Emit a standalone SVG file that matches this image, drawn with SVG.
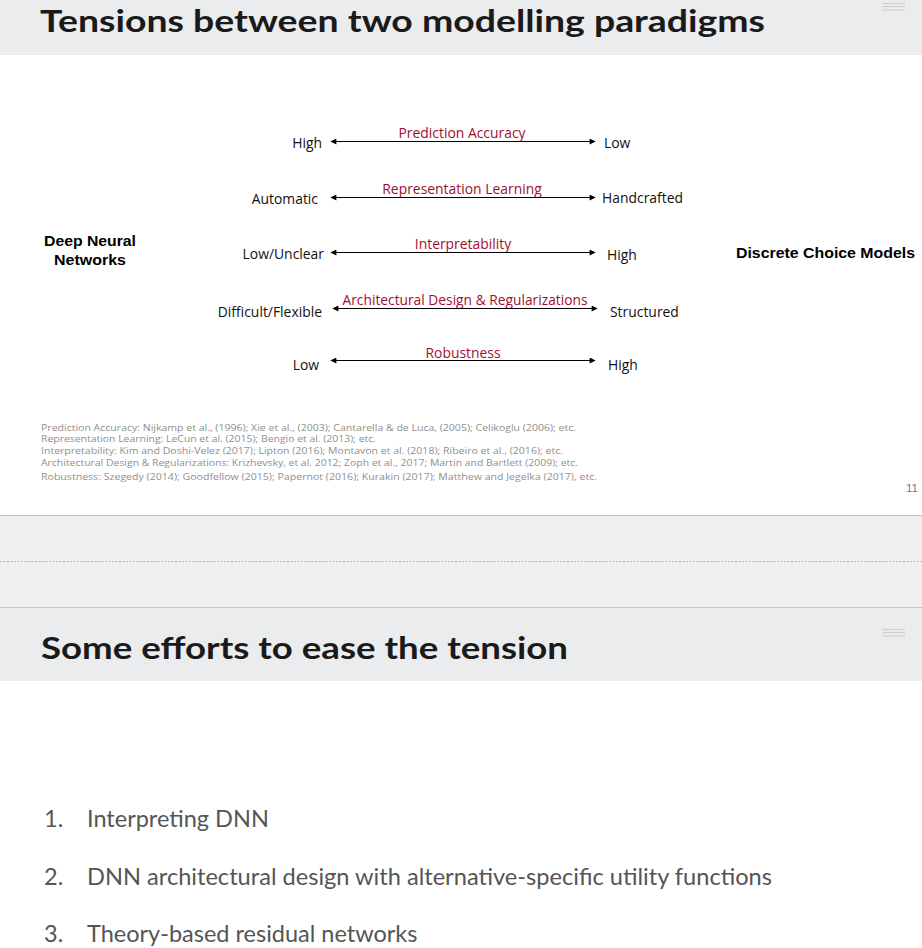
<svg xmlns="http://www.w3.org/2000/svg" width="922" height="948" viewBox="0 0 922 948">
  <style>
    .hdr { fill: #ebecee; }
    .title { font-family: Lato, "Open Sans", sans-serif; font-weight: 700; font-size: 31px; fill: #1a1a1a; }
    .end { font-family: "Open Sans", "Liberation Sans", sans-serif; font-size: 13.9px; fill: #111; }
    .axis { font-family: "Open Sans", "Liberation Sans", sans-serif; font-size: 13.9px; fill: #a0102e; }
    .side { font-family: "Liberation Sans", Arial, sans-serif; font-weight: 700; font-size: 15px; fill: #000; }
    .ref { font-family: "Open Sans", "Liberation Sans", sans-serif; font-size: 8.6px; fill: #8f8f8f; }
    .item { font-family: Lato, "Open Sans", sans-serif; font-size: 23.5px; fill: #555; }
    .menu { stroke: #cfd0d2; stroke-width: 1.2; }
    .conn { stroke: #000; stroke-width: 1; fill: none; marker-start: url(#ah); marker-end: url(#ah); }
  </style>
  <defs>
    <marker id="ah" viewBox="0 0 10 10" refX="9" refY="5" markerWidth="9" markerHeight="6" markerUnits="userSpaceOnUse" orient="auto-start-reverse">
      <path d="M0,0 L10,5 L0,10 z" fill="#000"/>
    </marker>
  </defs>

  <rect width="922" height="948" fill="#fff"/>

  <!-- slide 11 header -->
  <rect class="hdr" x="0" y="0" width="922" height="55"/>
  <text class="title" x="40" y="32" textLength="725" lengthAdjust="spacingAndGlyphs">Tensions between two modelling paradigms</text>
  <g>
    <line class="menu" x1="882" y1="3.5" x2="905" y2="3.5"/>
    <line class="menu" x1="882" y1="6.5" x2="905" y2="6.5"/>
    <line class="menu" x1="882" y1="10" x2="905" y2="10"/>
  </g>

  <!-- paradigm labels -->
  <g id="dnn">
    <text class="side" x="90" y="246" text-anchor="middle" textLength="92" lengthAdjust="spacingAndGlyphs">Deep Neural</text>
    <text class="side" x="90" y="265" text-anchor="middle" textLength="72" lengthAdjust="spacingAndGlyphs">Networks</text>
  </g>
  <g id="dcm">
    <text class="side" x="736" y="258" textLength="179" lengthAdjust="spacingAndGlyphs">Discrete Choice Models</text>
  </g>

  <!-- axis end labels -->
  <g id="row1">
    <text class="end" x="322" y="148" text-anchor="end">High</text>
    <text class="end" x="604" y="148">Low</text>
    <text class="axis" x="462" y="138" text-anchor="middle">Prediction Accuracy</text>
  </g>
  <g id="row2">
    <text class="end" x="318" y="204" text-anchor="end">Automatic</text>
    <text class="end" x="602" y="203">Handcrafted</text>
    <text class="axis" x="462" y="194" text-anchor="middle">Representation Learning</text>
  </g>
  <g id="row3">
    <text class="end" x="324" y="259" text-anchor="end">Low/Unclear</text>
    <text class="end" x="607" y="260">High</text>
    <text class="axis" x="463" y="249" text-anchor="middle">Interpretability</text>
  </g>
  <g id="row4">
    <text class="end" x="322" y="317" text-anchor="end">Difficult/Flexible</text>
    <text class="end" x="610" y="317">Structured</text>
    <text class="axis" x="465" y="305" text-anchor="middle" textLength="245" lengthAdjust="spacingAndGlyphs">Architectural Design &amp; Regularizations</text>
  </g>
  <g id="row5">
    <text class="end" x="319" y="370" text-anchor="end">Low</text>
    <text class="end" x="608" y="370">High</text>
    <text class="axis" x="463" y="358" text-anchor="middle">Robustness</text>
  </g>

  <!-- double-headed axes -->
  <g id="connectors">
    <line class="conn" x1="331" y1="141.5" x2="595" y2="141.5"/>
    <line class="conn" x1="331" y1="197.5" x2="595" y2="197.5"/>
    <line class="conn" x1="331" y1="252.5" x2="595" y2="252.5"/>
    <line class="conn" x1="333" y1="308.5" x2="597" y2="308.5"/>
    <line class="conn" x1="331" y1="360.5" x2="595" y2="360.5"/>
  </g>

  <!-- references -->
  <g id="refs">
    <text class="ref" x="41" y="431" textLength="535" lengthAdjust="spacingAndGlyphs">Prediction Accuracy: Nijkamp et al., (1996); Xie et al., (2003); Cantarella &amp; de Luca, (2005); Celikoglu (2006); etc.</text>
    <text class="ref" x="41" y="442" textLength="335" lengthAdjust="spacingAndGlyphs">Representation Learning: LeCun et al. (2015); Bengio et al. (2013); etc.</text>
    <text class="ref" x="41" y="454" textLength="522" lengthAdjust="spacingAndGlyphs">Interpretability: Kim and Doshi-Velez (2017); Lipton (2016); Montavon et al. (2018); Ribeiro et al., (2016); etc.</text>
    <text class="ref" x="41" y="466" textLength="537" lengthAdjust="spacingAndGlyphs">Architectural Design &amp; Regularizations: Krizhevsky, et al. 2012; Zoph et al., 2017; Martin and Bartlett (2009); etc.</text>
    <text class="ref" x="41" y="480" textLength="556" lengthAdjust="spacingAndGlyphs">Robustness: Szegedy (2014); Goodfellow (2015); Papernot (2016); Kurakin (2017); Matthew and Jegelka (2017),  etc.</text>
  </g>
  <text x="918" y="492" text-anchor="end" font-family="'Liberation Sans', Arial, sans-serif" font-size="11.5" fill="#777">11</text>

  <!-- gap between slides -->
  <rect x="0" y="515" width="922" height="93" fill="#f0f0f0"/>
  <line x1="0" y1="515.5" x2="922" y2="515.5" stroke="#c3c3c3" stroke-width="1"/>
  <line x1="0" y1="561.5" x2="922" y2="561.5" stroke="#b5b5b5" stroke-width="1" stroke-dasharray="2,1.5"/>
  <line x1="0" y1="607.5" x2="922" y2="607.5" stroke="#c3c3c3" stroke-width="1"/>

  <!-- slide 12 header -->
  <rect class="hdr" x="0" y="608" width="922" height="73"/>
  <text class="title" x="41" y="659" textLength="527" lengthAdjust="spacingAndGlyphs">Some efforts to ease the tension</text>
  <g>
    <line class="menu" x1="882" y1="629.5" x2="905" y2="629.5"/>
    <line class="menu" x1="882" y1="632.5" x2="905" y2="632.5"/>
    <line class="menu" x1="882" y1="636" x2="905" y2="636"/>
  </g>

  <!-- list -->
  <g id="list">
    <text class="item" x="44" y="827">1.</text>
    <text class="item" x="87" y="827">Interpreting DNN</text>
    <text class="item" x="44" y="885">2.</text>
    <text class="item" x="87" y="885" textLength="685" lengthAdjust="spacingAndGlyphs">DNN architectural design with alternative-specific utility functions</text>
    <text class="item" x="44" y="942">3.</text>
    <text class="item" x="87" y="942">Theory-based residual networks</text>
  </g>
</svg>
